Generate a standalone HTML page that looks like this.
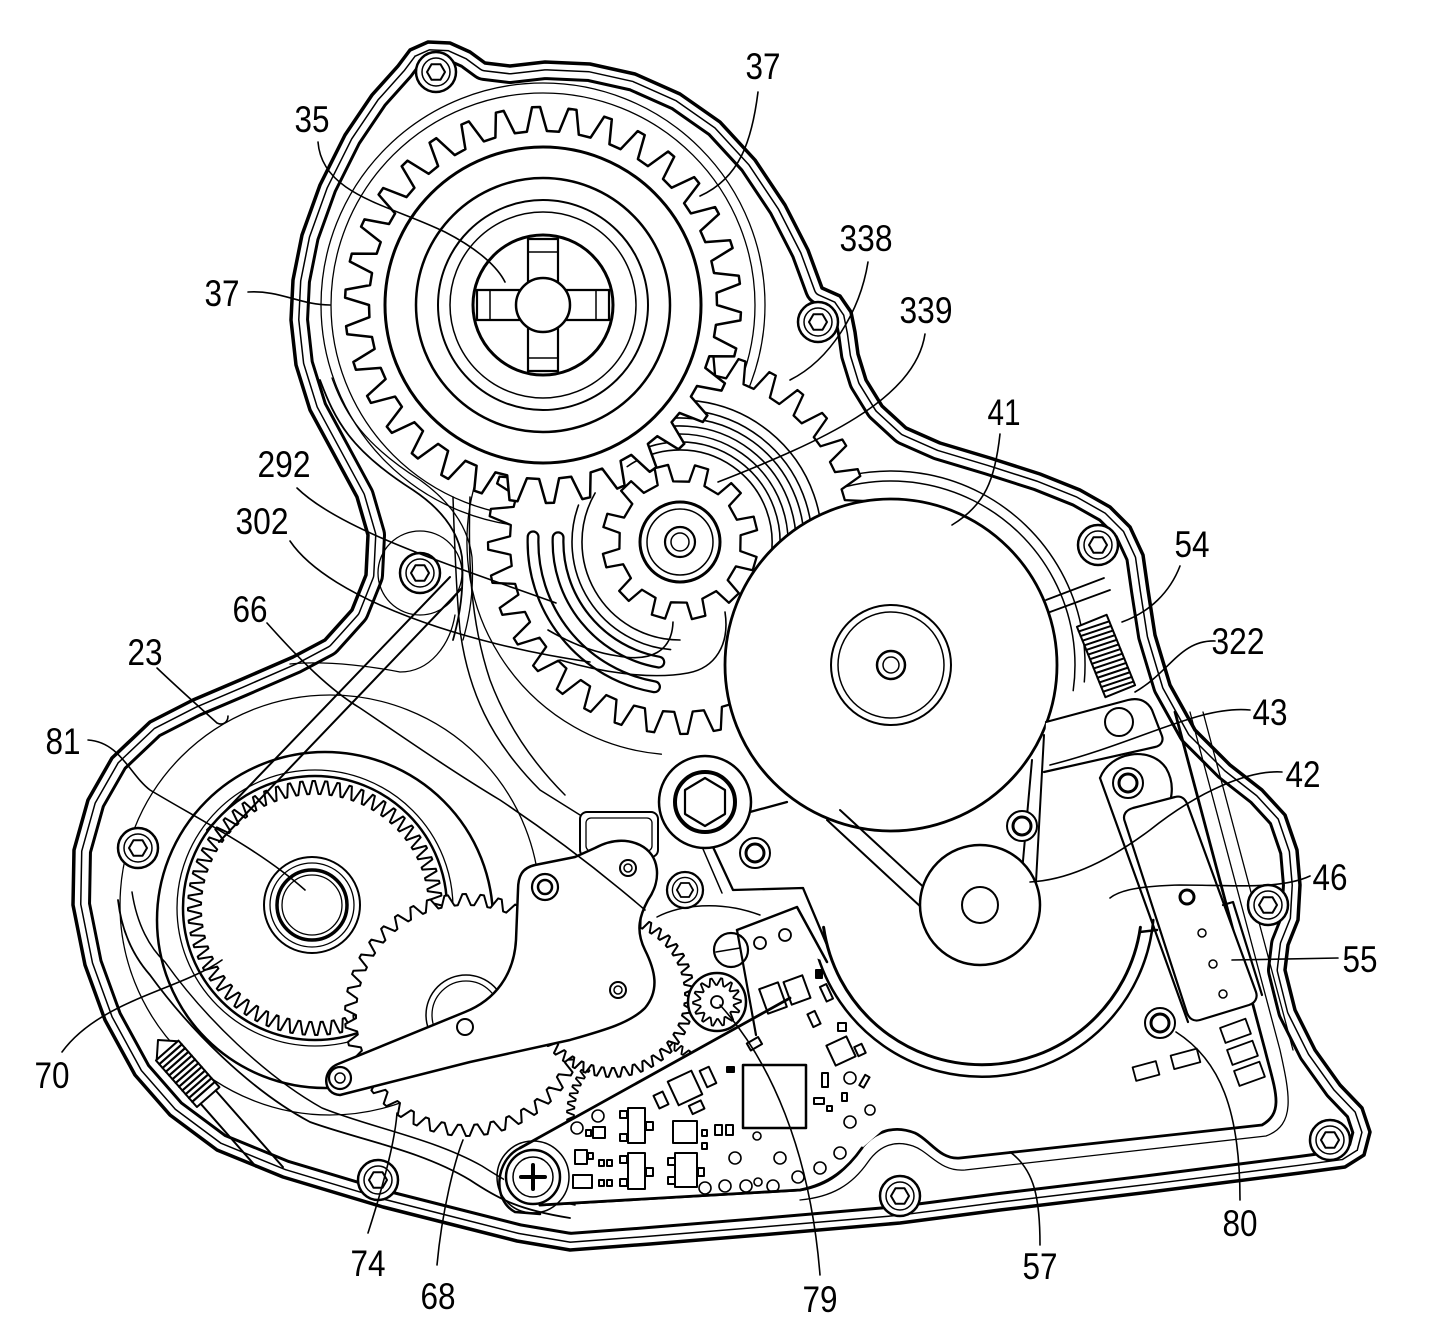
<!DOCTYPE html>
<html><head><meta charset="utf-8">
<style>
html,body{margin:0;padding:0;background:#fff;}
svg{display:block;}
text{font-family:"Liberation Sans",Arial,sans-serif;font-size:37px;fill:#000;stroke:none;}
</style></head><body>
<svg id="s" width="1437" height="1334" viewBox="0 0 1437 1334" xmlns="http://www.w3.org/2000/svg">
<defs>
<path id="hous" d="M398,66 L410,50 L428,42 L450,43 L470,52 L485,63 L510,66 L545,62 L590,64 L635,74 L680,94 L720,122 L755,160 L785,205 L808,250 L822,288 L840,296 L851,312 L855,332 L858,354 L866,380 L882,406 L906,428 L940,443 L990,458 L1040,474 L1080,490 L1110,507 L1130,527 L1143,555 L1148,590 L1155,635 L1170,685 L1195,730 L1230,765 L1262,790 L1285,815 L1297,850 L1300,885 L1298,920 L1288,945 L1285,970 L1295,1010 L1315,1050 L1340,1085 L1362,1108 L1370,1132 L1364,1155 L1345,1167 L1300,1173 L1150,1192 L1000,1210 L900,1223 L760,1235 L650,1244 L570,1250 L517,1241 L450,1224 L383,1207 L283,1177 L217,1150 L170,1115 L135,1075 L105,1020 L85,965 L73,905 L74,850 L88,800 L112,758 L150,722 L193,700 L240,680 L293,657 L325,640 L352,610 L366,575 L368,535 L357,497 L330,447 L310,410 L296,365 L291,320 L293,280 L302,235 L320,185 L345,135 L372,95 Z"/>
<clipPath id="hc"><use href="#hous"/></clipPath>
<g id="scr"><circle r="20" fill="#fff" stroke="#000" stroke-width="2.5"/><circle r="14" fill="none" stroke="#000" stroke-width="1.5"/><polygon points="9,0 4.5,7.8 -4.5,7.8 -9,0 -4.5,-7.8 4.5,-7.8" fill="none" stroke="#000" stroke-width="2"/></g>
<g id="rs"><circle r="15" fill="#fff" stroke="#000" stroke-width="2"/><circle r="9" fill="none" stroke="#000" stroke-width="3"/></g>
</defs>
<rect width="1437" height="1334" fill="#fff"/>

<g fill="none" stroke="#000" stroke-linejoin="round" stroke-linecap="round">
<!-- housing gasket lines -->
<g clip-path="url(#hc)">
<use href="#hous" stroke-width="36"/>
<use href="#hous" stroke="#fff" stroke-width="30"/>
<use href="#hous" stroke-width="17"/>
<use href="#hous" stroke="#fff" stroke-width="14"/>
<circle cx="543" cy="305" r="212" stroke-width="1.3"/>
<circle cx="543" cy="305" r="222" stroke-width="1.3"/>
<circle cx="330" cy="905" r="210" stroke-width="1.3"/>
<circle cx="325" cy="920" r="168" stroke-width="2.5"/>
</g>
<path id="marc" stroke-width="1.5"/>
<use href="#hous" stroke-width="3.5"/>

<!-- inner channel lines left -->
<path d="M320,380 C335,420 350,450 413,490 C440,508 458,530 462,557 C464,590 460,615 453,640" stroke-width="1.8"/>
<path d="M332,378 C345,415 365,445 420,480 C448,500 468,525 472,557 C474,590 470,615 463,640" stroke-width="1.3"/>
<path d="M453,497 C455,560 457,600 460,630 C468,690 490,740 540,790 L580,815" stroke-width="1.5"/>
<path d="M470,497 C468,560 470,620 490,680 C505,720 530,760 565,795" stroke-width="1.5"/>
<path d="M450,577 L207,830" stroke-width="2"/>
<path d="M462,588 L219,842" stroke-width="2"/>
<path d="M290,664 C330,660 380,668 400,672 C430,672 450,645 455,615" stroke-width="1.3"/>
<circle cx="420" cy="573" r="42" stroke-width="1.3"/>
<!-- lower-left inner lines -->
<path d="M118,900 C122,935 135,958 150,975 C190,1030 250,1090 310,1122 C360,1140 420,1150 470,1180 C500,1200 520,1210 570,1218" stroke-width="1.8"/>
<path d="M132,892 C137,925 150,948 165,962 C205,1018 265,1076 322,1108 C372,1128 432,1138 482,1166 C510,1184 530,1196 575,1205" stroke-width="1.5"/>
<!-- right side long gasket lines -->
<path d="M1175,712 L1265,1050 C1275,1090 1285,1112 1262,1125 L960,1158 C940,1160 930,1140 915,1133 C895,1125 875,1130 860,1150 C845,1170 830,1185 800,1190 L540,1205" stroke-width="2.8"/>
<path d="M1190,712 L1280,1050 C1290,1095 1296,1125 1266,1136 L965,1170 C940,1172 930,1152 913,1146 C895,1140 880,1145 868,1162 C852,1185 832,1197 800,1200" stroke-width="1.3"/>
<path d="M1203,712 L1293,1050" stroke-width="1.3"/>

<!-- gear 338 / 302 compound -->
<path id="g338" fill="#fff" stroke-width="2.3"/>
<path id="rings" stroke-width="1.6"/>
<path id="slotB" stroke-width="13"/>
<path id="slotW" stroke="#fff" stroke-width="8.5"/>
<path id="a213" stroke-width="1.3"/>
<path d="M673,622 C672,652 650,662 618,656 C590,652 565,640 548,630" stroke-width="1.6"/>
<path d="M725,612 C730,645 715,668 688,673 C650,680 600,672 560,660" stroke-width="1.6"/>

<!-- gear 37 -->
<path id="g37" fill="#fff" stroke-width="2.5"/>
<circle cx="543" cy="305" r="158" stroke-width="3"/>
<circle cx="543" cy="305" r="127" stroke-width="2.5"/>
<circle cx="543" cy="305" r="105" stroke-width="2"/>
<circle cx="543" cy="305" r="93" stroke-width="1.5"/>
<circle cx="543" cy="305" r="70" stroke-width="3"/>
<rect x="528" y="239" width="30" height="132" fill="#fff" stroke-width="2.2"/>
<rect x="477" y="290" width="132" height="30" fill="#fff" stroke-width="2.2"/>
<circle cx="543" cy="305" r="27" fill="#fff" stroke-width="2.5"/>
<path d="M528,252 L558,252 M528,358 L558,358 M490,290 L490,320 M596,290 L596,320" stroke-width="1.5"/>

<!-- pinion 339 -->
<path id="g339" fill="#fff" stroke-width="2.3"/>
<circle cx="680" cy="542" r="40" stroke-width="3"/>
<circle cx="680" cy="542" r="33" stroke-width="1.5"/>
<circle cx="680" cy="542" r="15" stroke-width="2.2"/>
<circle cx="680" cy="542" r="9" stroke-width="1.5"/>

<!-- motor 41 -->
<circle cx="891" cy="665" r="166" fill="#fff" stroke-width="2.8"/>
<circle cx="891" cy="665" r="60" stroke-width="2"/>
<circle cx="891" cy="665" r="53" stroke-width="1.5"/>
<circle cx="891" cy="665" r="14" stroke-width="2.5"/>
<circle cx="891" cy="665" r="8" stroke-width="1.5"/>
<path d="M1050,612 L1110,590 M1046,600 L1104,578" stroke-width="1.8"/>
<path d="M750,812 L787,802 M713,847 L733,890 L803,888 L827,945" stroke-width="2.3"/>
<path d="M703,849 L722,893" stroke-width="1.5"/>
<path d="M657,917 C680,905 720,900 760,915" stroke-width="1.5"/>

<!-- belt -->
<path d="M827,820 L922,908 M840,810 L930,893" stroke-width="2"/>
<path d="M1044,735 L1036,882 M1032,760 L1022,872" stroke-width="2"/>

<!-- plate 46 arcs -->
<path id="p46a" stroke-width="3"/>
<path id="p46b" stroke-width="2.5"/>
<path d="M1140,932 L1157,930" stroke-width="2.5"/>

<!-- pulley 42 -->
<circle cx="980" cy="905" r="60" fill="#fff" stroke-width="2.5"/>
<circle cx="980" cy="905" r="18" stroke-width="2"/>

<!-- swing arm and board 55 -->
<path d="M1100,778 C1110,752 1150,745 1166,768 C1176,785 1172,805 1162,815" fill="#fff" stroke-width="2.2"/>
<path d="M1100,778 L1188,1022" stroke-width="2.2"/>
<path d="M1125,822 C1122,815 1126,810 1133,808 L1175,797 C1182,795 1186,800 1188,806 L1256,992 C1258,998 1255,1003 1249,1005 L1200,1020 C1193,1022 1189,1018 1187,1013 Z" fill="#fff" stroke-width="2.2"/>
<path d="M1223,905 L1233,902 L1262,995" stroke-width="2.2"/>
<circle cx="1187" cy="897" r="7" stroke-width="3"/>
<circle cx="1202" cy="933" r="4" stroke-width="1.5"/>
<circle cx="1213" cy="964" r="4" stroke-width="1.5"/>
<circle cx="1223" cy="994" r="4" stroke-width="1.5"/>
<g stroke-width="1.8">
<rect x="1222" y="1023" width="27" height="16" transform="rotate(-20 1235 1031)"/>
<rect x="1229" y="1045" width="27" height="16" transform="rotate(-20 1242 1053)"/>
<rect x="1236" y="1066" width="27" height="16" transform="rotate(-20 1249 1074)"/>
<rect x="1172" y="1052" width="27" height="14" transform="rotate(-15 1185 1059)"/>
<rect x="1134" y="1064" width="24" height="14" transform="rotate(-15 1146 1071)"/>
</g>

<!-- arm 43 -->
<path d="M1046,722 L1128,700 C1140,697 1148,702 1152,710 L1162,736 C1164,742 1160,746 1155,747 L1044,772" fill="#fff" stroke-width="2.2"/>
<circle cx="1119" cy="722" r="14" fill="#fff" stroke-width="2"/>

<!-- spring 54 -->
<g transform="translate(1106,656) rotate(-22)">
<rect x="-16" y="-38" width="32" height="76" fill="#fff" stroke-width="2"/>
<path d="M-16,-33 L16,-31 M-16,-28 L16,-26 M-16,-23 L16,-21 M-16,-18 L16,-16 M-16,-13 L16,-11 M-16,-8 L16,-6 M-16,-3 L16,-1 M-16,2 L16,4 M-16,7 L16,9 M-16,12 L16,14 M-16,17 L16,19 M-16,22 L16,24 M-16,27 L16,29 M-16,32 L16,34" stroke-width="2"/>
</g>

<!-- lower-left gear 70 + hub 81 -->
<circle cx="315" cy="908" r="138" stroke-width="1.3"/>
<circle cx="315" cy="908" r="132" stroke-width="2.5"/>
<path id="g70" stroke-width="2"/>
<circle cx="312" cy="905" r="48" stroke-width="2"/>
<circle cx="312" cy="905" r="42" stroke-width="1.3"/>
<circle cx="312" cy="905" r="35" stroke-width="3.5"/>
<circle cx="312" cy="905" r="30" stroke-width="1.3"/>

<!-- spring lower-left -->
<g transform="translate(158,1040) rotate(48.7)">
<path d="M0,0 L14,-14 L14,14 Z" fill="#fff" stroke-width="2"/>
<rect x="14" y="-15" width="62" height="30" fill="#fff" stroke-width="2"/>
<path d="M19,-15 V15 M24,-15 V15 M29,-15 V15 M34,-15 V15 M39,-15 V15 M44,-15 V15 M49,-15 V15 M54,-15 V15 M59,-15 V15 M64,-15 V15 M69,-15 V15" stroke-width="2.2"/>
<path d="M76,-10 L178,-10 M76,10 L160,10" stroke-width="2"/>
</g>

<!-- gears 68/74, fine gear, G3 -->
<path id="g68" fill="#fff" stroke-width="2"/>
<circle cx="466" cy="1015" r="40" stroke-width="1.5"/>
<circle cx="466" cy="1015" r="34" stroke-width="1.3"/>
<path id="gfine" fill="#fff" stroke-width="1.8"/>
<path id="g3" fill="#fff" stroke-width="2"/>
<rect x="580" y="812" width="78" height="45" rx="7" fill="#fff" stroke-width="2"/>
<rect x="586" y="818" width="66" height="33" rx="5" stroke-width="1.3"/>

<!-- lever plate -->
<path d="M338,1064 C322,1070 322,1094 340,1095 L470,1062 L570,1040 C605,1030 630,1023 645,1008 C660,990 655,970 645,950 C635,930 640,915 648,900 C662,880 660,855 640,845 C625,838 610,840 595,848 L575,857 L535,865 C522,868 518,876 518,890 L516,940 C514,975 495,1000 465,1012 Z" fill="#fff" stroke-width="2.5"/>
<circle cx="340" cy="1078" r="11" stroke-width="2.2"/>
<circle cx="340" cy="1078" r="5" stroke-width="1.5"/>
<circle cx="545" cy="887" r="13" stroke-width="2.2"/>
<circle cx="545" cy="887" r="7" stroke-width="2.5"/>
<circle cx="628" cy="868" r="8" stroke-width="2"/>
<circle cx="628" cy="868" r="4" stroke-width="1.5"/>
<circle cx="618" cy="990" r="8" stroke-width="2"/>
<circle cx="618" cy="990" r="4" stroke-width="1.5"/>
<circle cx="465" cy="1027" r="8" stroke-width="2"/>

<!-- big hex screw -->
<circle cx="705" cy="802" r="46" fill="#fff" stroke-width="2.5"/>
<circle cx="705" cy="802" r="30" stroke-width="4"/>
<polygon points="729,802 717,822 693,822 681,802 693,782 717,782" transform="rotate(90 705 802)" stroke-width="2.2"/>
<use href="#rs" x="755" y="853"/>
<use href="#scr" transform="translate(685,890) scale(0.9)"/>

<!-- PCB board fill -->
<path d="M520,1148 L790,998 L820,1000 L845,1040 L870,1075 L892,1100 L885,1128 L862,1148 C848,1168 830,1184 800,1190 L540,1205 C515,1206 500,1190 505,1170 Z" fill="#fff" stroke="none"/>
<path d="M862,1148 C848,1168 830,1184 800,1190 L540,1205" stroke-width="2.8"/>
<path d="M520,1148 L790,998" stroke-width="2.8"/>
<path d="M737,930 L797,907 L827,962" fill="#fff" stroke-width="2.5"/>
<path d="M737,930 L756,1035" stroke-width="2.2"/>
<circle cx="760" cy="943" r="6" stroke-width="1.8"/>
<circle cx="785" cy="935" r="6" stroke-width="1.8"/>
<circle cx="731" cy="950" r="17" stroke-width="2.2"/>
<path d="M716,952 L740,948" stroke-width="1.5"/>
<!-- gear 79 -->
<circle cx="717" cy="1002" r="29" fill="#fff" stroke-width="2.5"/>
<path id="g79" stroke-width="1.8"/>
<circle cx="717" cy="1002" r="6" stroke-width="1.8"/>
<!-- pivot end -->
<path d="M520,1148 C495,1160 492,1200 515,1212 L540,1214" stroke-width="2.5"/>
<circle cx="533" cy="1177" r="36" stroke-width="1.5"/>
<circle cx="533" cy="1177" r="27" fill="#fff" stroke-width="2.5"/>
<circle cx="533" cy="1177" r="20" stroke-width="1.5"/>
<path d="M533,1165 V1189 M521,1177 H545" stroke-width="4"/>
<!-- SMD components -->
<g stroke-width="2">
<rect x="743" y="1065" width="63" height="63" stroke-width="2.5"/>
<rect x="628" y="1108" width="17" height="35"/><rect x="620" y="1111" width="7" height="7"/><rect x="620" y="1134" width="7" height="7"/><rect x="646" y="1122" width="7" height="8"/>
<rect x="628" y="1153" width="17" height="36"/><rect x="620" y="1156" width="7" height="7"/><rect x="620" y="1179" width="7" height="7"/><rect x="646" y="1168" width="7" height="8"/>
<rect x="593" y="1127" width="12" height="11"/><rect x="586" y="1130" width="5" height="6"/>
<rect x="575" y="1150" width="12" height="14"/><rect x="588" y="1153" width="5" height="6"/>
<rect x="673" y="1121" width="24" height="22"/>
<rect x="675" y="1153" width="22" height="34"/><rect x="668" y="1158" width="7" height="7"/><rect x="668" y="1177" width="7" height="7"/><rect x="698" y="1168" width="6" height="8"/>
<rect x="715" y="1125" width="7" height="10"/><rect x="726" y="1125" width="7" height="10"/>
<rect x="573" y="1175" width="19" height="13"/>
<rect x="599" y="1160" width="5" height="6"/><rect x="607" y="1160" width="5" height="6"/>
<rect x="599" y="1180" width="5" height="6"/><rect x="607" y="1180" width="5" height="6"/>
<rect x="702" y="1130" width="5" height="6"/><rect x="702" y="1143" width="5" height="6"/>
<rect x="656" y="1093" width="10" height="14" transform="rotate(-25 661 1100)"/>
<rect x="672" y="1075" width="26" height="26" transform="rotate(-25 685 1088)"/>
<rect x="703" y="1068" width="10" height="18" transform="rotate(-25 708 1077)"/>
<rect x="690" y="1103" width="13" height="9" transform="rotate(-25 696 1107)"/>
<rect x="727" y="1067" width="7" height="5" fill="#000"/>
<rect x="748" y="1040" width="13" height="8" transform="rotate(-30 754 1044)"/>
<rect x="763" y="985" width="20" height="26" transform="rotate(-20 773 998)"/>
<rect x="787" y="978" width="20" height="24" transform="rotate(-20 797 990)"/>
<rect x="823" y="985" width="7" height="16" transform="rotate(-25 826 993)"/>
<rect x="816" y="970" width="6" height="8" fill="#000"/>
<rect x="830" y="1040" width="22" height="22" transform="rotate(-25 841 1051)"/>
<rect x="810" y="1012" width="8" height="14" transform="rotate(-25 814 1019)"/>
<rect x="838" y="1023" width="8" height="8"/>
<rect x="856" y="1045" width="8" height="10" transform="rotate(-25 860 1050)"/>
<rect x="822" y="1073" width="6" height="14"/>
<rect x="814" y="1098" width="10" height="6"/>
<rect x="842" y="1093" width="5" height="8"/>
<rect x="862" y="1075" width="5" height="12" transform="rotate(30 864 1081)"/>
<rect x="827" y="1106" width="5" height="5"/>
</g>
<g stroke-width="1.6">
<circle cx="577" cy="1128" r="6"/><circle cx="598" cy="1116" r="6"/>
<circle cx="705" cy="1188" r="6"/><circle cx="725" cy="1186" r="6"/><circle cx="746" cy="1186" r="6"/><circle cx="758" cy="1182" r="4"/>
<circle cx="773" cy="1186" r="6"/><circle cx="735" cy="1158" r="6"/><circle cx="757" cy="1136" r="4"/><circle cx="780" cy="1158" r="6"/>
<circle cx="798" cy="1177" r="6"/><circle cx="820" cy="1168" r="6"/><circle cx="840" cy="1153" r="6"/>
<circle cx="850" cy="1078" r="6"/><circle cx="850" cy="1122" r="6"/><circle cx="870" cy="1110" r="5"/>
</g>

<!-- housing screws -->
<use href="#scr" x="436" y="72"/>
<use href="#scr" x="818" y="322"/>
<use href="#scr" x="1098" y="545"/>
<use href="#scr" x="1268" y="905"/>
<use href="#scr" x="1330" y="1140"/>
<use href="#scr" x="900" y="1196"/>
<use href="#scr" x="378" y="1180"/>
<use href="#scr" x="138" y="848"/>
<use href="#scr" x="420" y="573"/>
<use href="#rs" x="1128" y="783"/>
<use href="#rs" x="1022" y="826"/>
<use href="#rs" x="1160" y="1023"/>

<!-- leaders -->
<g stroke-width="1.6">
<path d="M758,92 C752,140 740,178 700,196"/>
<path d="M318,142 C322,195 390,205 445,232 C480,250 498,268 505,282"/>
<path d="M868,262 C860,312 830,360 790,380"/>
<path d="M925,334 C915,400 820,442 718,482"/>
<path d="M248,292 C280,290 300,305 330,305"/>
<path d="M1000,434 C995,480 985,505 952,525"/>
<path d="M297,488 C340,530 450,565 556,603"/>
<path d="M290,541 C330,600 470,645 590,662"/>
<path d="M1180,566 C1170,592 1150,612 1122,622"/>
<path d="M267,623 C300,660 330,690 360,708 C400,735 450,770 500,800 C560,840 610,880 645,910"/>
<path d="M157,668 C180,690 205,712 217,723 C223,726 228,722 228,716"/>
<path d="M1215,641 C1180,640 1170,672 1135,692"/>
<path d="M88,740 C120,742 130,775 150,790 C200,820 260,850 305,890"/>
<path d="M1250,710 C1200,705 1140,742 1050,765"/>
<path d="M1282,772 C1250,770 1200,790 1150,830 C1110,860 1070,880 1030,882"/>
<path d="M1310,876 C1280,890 1230,885 1180,885 C1140,886 1120,890 1110,898"/>
<path d="M1338,958 L1232,960"/>
<path d="M62,1052 C100,1000 180,990 222,960"/>
<path d="M1240,1200 C1240,1110 1220,1060 1176,1032"/>
<path d="M368,1233 C385,1180 395,1140 397,1113"/>
<path d="M1040,1245 C1040,1200 1035,1170 1010,1152"/>
<path d="M437,1265 C442,1210 455,1160 463,1140"/>
<path d="M820,1275 C810,1150 770,1060 720,1005"/>
</g>
</g>

<!-- labels -->
<g>
<text x="763" y="79" text-anchor="middle" textLength="35" lengthAdjust="spacingAndGlyphs">37</text>
<text x="312" y="132" text-anchor="middle" textLength="35" lengthAdjust="spacingAndGlyphs">35</text>
<text x="866" y="251" text-anchor="middle" textLength="53" lengthAdjust="spacingAndGlyphs">338</text>
<text x="926" y="323" text-anchor="middle" textLength="53" lengthAdjust="spacingAndGlyphs">339</text>
<text x="222" y="306" text-anchor="middle" textLength="35" lengthAdjust="spacingAndGlyphs">37</text>
<text x="1004" y="425" text-anchor="middle" textLength="33" lengthAdjust="spacingAndGlyphs">41</text>
<text x="284" y="477" text-anchor="middle" textLength="53" lengthAdjust="spacingAndGlyphs">292</text>
<text x="262" y="534" text-anchor="middle" textLength="53" lengthAdjust="spacingAndGlyphs">302</text>
<text x="1192" y="557" text-anchor="middle" textLength="35" lengthAdjust="spacingAndGlyphs">54</text>
<text x="250" y="622" text-anchor="middle" textLength="35" lengthAdjust="spacingAndGlyphs">66</text>
<text x="145" y="665" text-anchor="middle" textLength="35" lengthAdjust="spacingAndGlyphs">23</text>
<text x="1238" y="654" text-anchor="middle" textLength="53" lengthAdjust="spacingAndGlyphs">322</text>
<text x="63" y="754" text-anchor="middle" textLength="35" lengthAdjust="spacingAndGlyphs">81</text>
<text x="1270" y="725" text-anchor="middle" textLength="35" lengthAdjust="spacingAndGlyphs">43</text>
<text x="1303" y="787" text-anchor="middle" textLength="35" lengthAdjust="spacingAndGlyphs">42</text>
<text x="1330" y="890" text-anchor="middle" textLength="35" lengthAdjust="spacingAndGlyphs">46</text>
<text x="1360" y="972" text-anchor="middle" textLength="35" lengthAdjust="spacingAndGlyphs">55</text>
<text x="52" y="1088" text-anchor="middle" textLength="35" lengthAdjust="spacingAndGlyphs">70</text>
<text x="1240" y="1236" text-anchor="middle" textLength="35" lengthAdjust="spacingAndGlyphs">80</text>
<text x="368" y="1276" text-anchor="middle" textLength="35" lengthAdjust="spacingAndGlyphs">74</text>
<text x="1040" y="1279" text-anchor="middle" textLength="35" lengthAdjust="spacingAndGlyphs">57</text>
<text x="438" y="1309" text-anchor="middle" textLength="35" lengthAdjust="spacingAndGlyphs">68</text>
<text x="820" y="1312" text-anchor="middle" textLength="35" lengthAdjust="spacingAndGlyphs">79</text>
</g>
</svg>
<script>
(function(){
function gp(cx,cy,n,rt,rr,ph,f){
  var p=2*Math.PI/n,d='';
  for(var i=0;i<n;i++){
    var a=ph+i*p;
    var pts=[[rr,a],[rt,a+f[0]*p],[rt,a+f[1]*p],[rr,a+f[2]*p]];
    for(var j=0;j<4;j++){
      var x=(cx+pts[j][0]*Math.cos(pts[j][1])).toFixed(1),y=(cy+pts[j][0]*Math.sin(pts[j][1])).toFixed(1);
      d+=((i===0&&j===0)?'M':'L')+x+','+y;
    }
  }
  return d+'Z';
}
function arc(cx,cy,r,a0,a1){
  var t0=a0*Math.PI/180,t1=a1*Math.PI/180;
  var x0=cx+r*Math.cos(t0),y0=cy+r*Math.sin(t0),x1=cx+r*Math.cos(t1),y1=cy+r*Math.sin(t1);
  var large=Math.abs(a1-a0)>180?1:0,sweep=a1>a0?1:0;
  return 'M'+x0.toFixed(1)+','+y0.toFixed(1)+'A'+r+','+r+' 0 '+large+' '+sweep+' '+x1.toFixed(1)+','+y1.toFixed(1);
}
var G=[
 ['g338',680,542,36,192,170,0.1,[0.2,0.42,0.62]],
 ['g37',543,305,34,198,174,0.0,[0.2,0.42,0.62]],
 ['g339',680,542,12,78,61,0.15,[0.08,0.42,0.5]],
 ['g70',315,908,64,114,127,0,[0.3,0.5,0.8]],
 ['g68',466,1015,42,121,110,0,[0.3,0.5,0.8]],
 ['gfine',645,1115,56,78,71,0,[0.3,0.5,0.8]],
 ['g3',612,995,44,82,73,0,[0.3,0.5,0.8]],
 ['g79',717,1002,14,17,24,0,[0.35,0.5,0.85]]
];
G.forEach(function(g){var e=document.getElementById(g[0]); if(e) e.setAttribute('d',gp(g[1],g[2],g[3],g[4],g[5],g[6],g[7]));});
var A={
 marc:[[891,665,184,-135,8],[891,665,194,-130,5]],
 rings:[[680,542,92,-125,15],[680,542,100,-125,15],[680,542,108,-125,15],[680,542,116,-120,15],[680,542,124,-120,12],[680,542,132,-115,10],[680,542,142,-110,8],[680,542,98,90,210],[680,542,108,95,200]],
 slotB:[[680,542,122,100,182],[680,542,147,100,182]],
 slotW:[[680,542,122,100,182],[680,542,147,100,182]],
 a213:[[680,542,213,95,200]],
 p46a:[[982,905,160,172,8]],
 p46b:[[982,905,172,165,5]]
};
for(var k in A){var e=document.getElementById(k); if(!e) continue; var d=''; A[k].forEach(function(a){d+=arc(a[0],a[1],a[2],a[3],a[4]);}); e.setAttribute('d',d);}
})();
</script>
</body></html>
